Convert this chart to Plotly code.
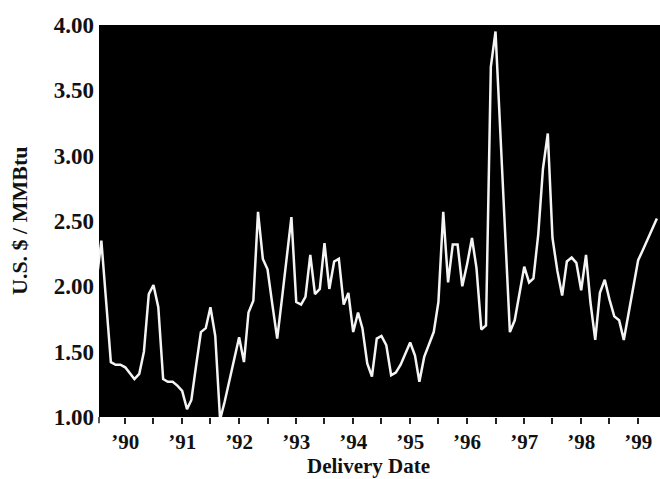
import pandas as pd
import plotly.graph_objects as go

# Monthly natural gas price, U.S. $ per MMBtu, July 1989 onward
start_month = "1989-07-01"
prices = [
    2.04, 2.35, 1.88, 1.42, 1.40, 1.40, 1.38, 1.33, 1.29, 1.33, 1.50, 1.94,
    2.01, 1.84, 1.29, 1.27, 1.27, 1.24, 1.20, 1.06, 1.13, 1.40, 1.65, 1.68,
    1.84, 1.62, 0.98, 1.12, 1.28, 1.45, 1.61, 1.42, 1.80, 1.89, 2.57, 2.21,
    2.13, 1.86, 1.60, 1.90, 2.22, 2.53, 1.88, 1.86, 1.92, 2.24, 1.94, 1.98,
    2.33, 1.98, 2.19, 2.21, 1.86, 1.95, 1.65, 1.80, 1.68, 1.41, 1.31, 1.60,
    1.62, 1.55, 1.32, 1.34, 1.40, 1.48, 1.57, 1.47, 1.27, 1.46, 1.55, 1.65,
    1.88, 2.57, 2.03, 2.32, 2.32, 2.00, 2.17, 2.37, 2.14, 1.67, 1.70, 3.68,
    3.95, 3.20, 2.42, 1.65, 1.74, 1.95, 2.15, 2.03, 2.06, 2.40, 2.90, 3.17,
    2.37, 2.12, 1.93, 2.19, 2.22, 2.18, 1.97, 2.24, 1.88, 1.59, 1.95, 2.05,
    1.90, 1.77, 1.74, 1.59, 1.80, 2.00, 2.20, 2.28, 2.36, 2.44, 2.52,
]
dates = pd.date_range(start_month, periods=len(prices), freq="MS")

years = list(range(1990, 2000))
year_labels = ["\u2019" + str(y)[2:] for y in years]
y_ticks = [1.0, 1.5, 2.0, 2.5, 3.0, 3.5, 4.0]
y_labels = ["1.00", "1.50", "2.00", "2.50", "3.00", "3.50", "4.00"]

# half-year tick marks, labels only on January
x_tickvals, x_ticktext = [], []
for y, lab in zip(years, year_labels):
    x_tickvals.append(f"{y}-01-01")
    x_ticktext.append(lab)
    if y < 1999:
        x_tickvals.append(f"{y}-07-01")
        x_ticktext.append("")

font_family = "Liberation Serif, Times New Roman, serif"

fig = go.Figure()
fig.add_trace(go.Scatter(
    x=dates, y=prices, mode="lines",
    line=dict(color="#f4f4f4", width=2.5),
    hoverinfo="skip", showlegend=False,
))

fig.update_layout(
    width=660, height=479,
    margin=dict(l=99, r=0, t=25, b=62),
    paper_bgcolor="white",
    plot_bgcolor="black",
    font=dict(family=font_family, color="#111", size=22),
    xaxis=dict(
        range=["1989-07-17", "1999-05-21"],
        tickmode="array", tickvals=x_tickvals, ticktext=x_ticktext,
        ticks="outside", ticklen=6, tickwidth=1.5, tickcolor="#222",
        showgrid=False, zeroline=False, showline=False,
        tickfont=dict(family=font_family, size=21, color="#111", weight="bold"),
    ),
    yaxis=dict(
        range=[1.0, 4.0],
        tickmode="array", tickvals=y_ticks, ticktext=y_labels,
        ticks="", showgrid=False, zeroline=False, showline=False,
        ticklabelstandoff=4,
        tickfont=dict(family=font_family, size=23, color="#111", weight="bold"),
    ),
    annotations=[
        dict(text="<b>Delivery Date</b>", xref="paper", yref="paper",
             x=0.48, y=-0.126, xanchor="center", yanchor="middle",
             showarrow=False, font=dict(family=font_family, size=21, color="#111")),
        dict(text="<b>U.S. $ / MMBtu</b>", xref="paper", yref="paper",
             x=-0.1426, y=0.5, xanchor="center", yanchor="middle", textangle=-90,
             showarrow=False, font=dict(family=font_family, size=22, color="#111")),
    ],
    shapes=[
        dict(type="line", xref="paper", yref="paper", x0=0, x1=0, y0=0, y1=-0.016,
             line=dict(color="#222", width=1.5)),
    ],
)

fig.write_html("out.html")
